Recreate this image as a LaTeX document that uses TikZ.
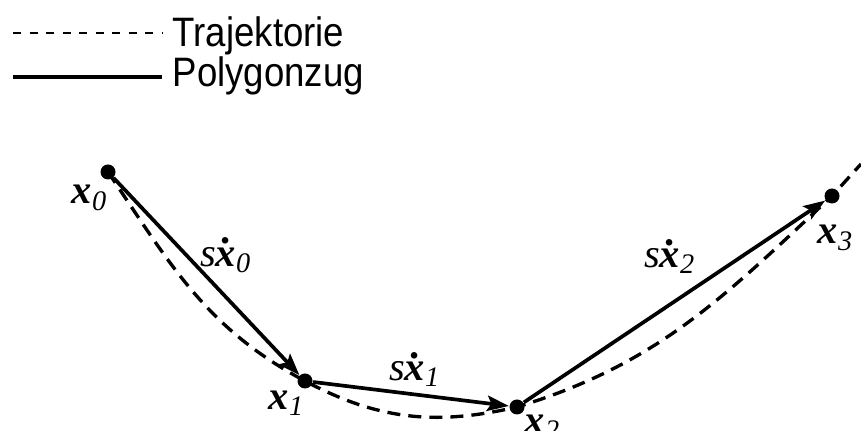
\documentclass[tikz,border=0pt]{standalone}
\usepackage{fontspec}
\usepackage{graphicx}
\setmainfont{Liberation Sans}
\newfontfamily\lblfont{Liberation Serif}
\usetikzlibrary{arrows.meta}
\newcommand{\vx}[1]{\textbf{\textit{x}}\textsubscript{\textit{#1}}}
\newcommand{\dotx}{\ooalign{\textbf{\textit{x}}\cr\hidewidth\raisebox{0.55em}{\textbf{.}}\hidewidth\cr}}
\newcommand{\svx}[1]{\textit{s}\dotx\textsubscript{\textit{#1}}}
\newcommand{\legword}[1]{\scalebox{0.89}[1]{#1}}
\tikzset{
  pt/.style={circle,fill=black,inner sep=0pt,minimum size=0.15cm},
  lbl/.style={font=\lblfont\fontsize{11.5}{13}\selectfont,inner sep=0pt},
  legtext/.style={font=\fontsize{11.7}{14}\selectfont,inner sep=0pt,anchor=base west},
  traj/.style={line width=0.95pt,dash pattern=on 3.7pt off 2.3pt},
  vec/.style={line width=1.05pt,-{Stealth[length=6.2pt,width=4.4pt,inset=1.2pt]}}
}
\begin{document}
\begin{tikzpicture}
\useasboundingbox (0,0) rectangle (8.61,4.31);
% legend
\node[legtext] (legtraj) at (1.72,3.84) {\legword{Trajektorie}};
\node[legtext] (legpoly) at (1.72,3.44) {\legword{Polygonzug}};
\coordinate (legtrajend) at (0.13,3.98);
\coordinate (legpolyend) at (0.13,3.54);
\draw[line width=0.7pt,dash pattern=on 2.3pt off 2.4pt] (legtrajend) -- ([xshift=-1mm]legtrajend -| legtraj.west);
\draw[line width=1pt] (legpolyend) -- ([xshift=-1mm]legpolyend -| legpoly.west);
% points
\node[pt] (x0) at (1.08,2.59) {};
\node[pt] (x1) at (3.05,0.50) {};
\node[pt] (x2) at (5.17,0.24) {};
\node[pt] (x3) at (8.32,2.35) {};
\coordinate (trajend) at (8.61,2.67);
\node[lbl] (lx0) at (0.90,2.33) {\vx{0}};
\node[lbl] (lx1) at (2.87,0.28) {\vx{1}};
\node[lbl] (lx2) at (5.43,0.04) {\vx{2}};
\node[lbl] (lx3) at (8.36,1.93) {\vx{3}};
% trajectory
\draw[traj] (x0.center) to[out=-56,in=152] (x1.center) to[out=-28,in=193] (x2.center)
  to[out=17,in=223] (x3.center) -- (trajend);
% polygon
\draw[vec] (x0) -- (x1);
\draw[vec] (x1) -- (x2);
\draw[vec] (x2) -- (x3);
\node[lbl] (sx0) at (2.26,1.71) {\svx{0}};
\node[lbl] (sx1) at (4.15,0.57) {\svx{1}};
\node[lbl] (sx2) at (6.70,1.70) {\svx{2}};
\end{tikzpicture}
\end{document}
